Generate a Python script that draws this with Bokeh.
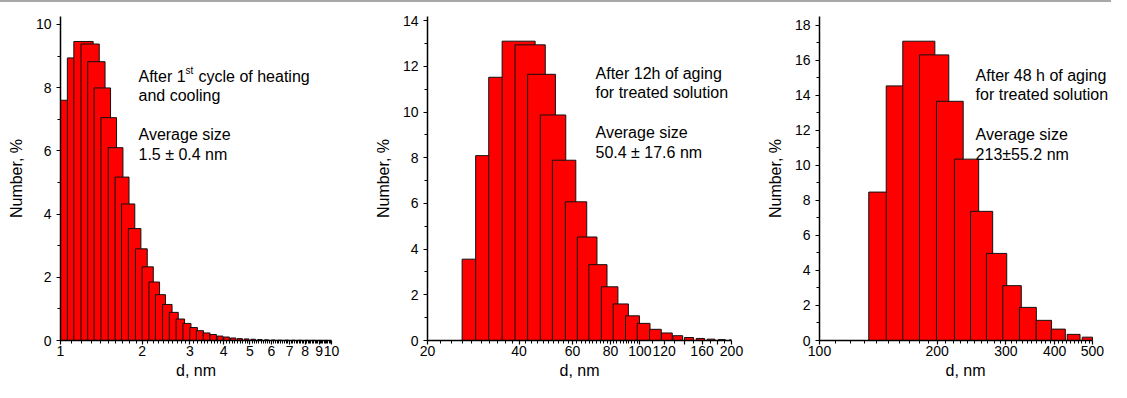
from bokeh.plotting import figure
from bokeh.layouts import row
from bokeh.models import Range1d, FixedTicker, SingleIntervalTicker, Label
from bokeh.embed import file_html
from bokeh.resources import INLINE

FONT = "Liberation Sans"

# ---------------- data ----------------
# Panel 1: after 1st cycle of heating and cooling (d in nm, Number in %)
p1_d = [1.00, 1.06, 1.12, 1.19, 1.26, 1.33, 1.41, 1.50, 1.59, 1.68,
        1.78, 1.89, 2.00, 2.12, 2.24, 2.38, 2.52, 2.67, 2.83, 3.00,
        3.17, 3.36, 3.56, 3.78, 4.00, 4.24, 4.49, 4.76, 5.04, 5.34,
        5.66, 6.00, 6.35, 6.73, 7.13, 7.55, 8.00, 8.48, 8.98, 9.51]
p1_n = [7.60, 8.94, 9.46, 9.38, 8.82, 7.99, 7.05, 6.10, 5.17, 4.32,
        3.54, 2.90, 2.33, 1.85, 1.45, 1.14, 0.89, 0.68, 0.54, 0.41,
        0.31, 0.24, 0.19, 0.14, 0.11, 0.08, 0.06, 0.05, 0.04, 0.03,
        0.02, 0.015, 0.01, 0.01, 0.008, 0.006, 0.005, 0.004, 0.003, 0.002]
p1_bar_w = 0.2

# Panel 2: after 12 h of aging
p2_d = [26.0, 28.8, 31.8, 35.2, 38.8, 42.7, 47.0, 51.5, 56.8, 62.2,
        67.9, 74.6, 81.6, 89.6, 97.9, 107.5, 117.7, 128.2, 140.1, 153.1,
        166.4, 180.8, 197.0]
p2_n = [3.56, 8.09, 11.52, 13.10, 12.94, 11.65, 9.87, 7.89, 6.07, 4.53,
        3.32, 2.35, 1.60, 1.08, 0.75, 0.49, 0.33, 0.21, 0.13, 0.09,
        0.06, 0.04, 0.03]
p2_bar_w = 10.0

# Panel 3: after 48 h of aging
p3_d = [133.7, 148.2, 163.4, 180.3, 199.3, 221.6, 243.6, 267.6, 294.6,
        325.1, 358.7, 392.0, 430.6, 470.6]
p3_n = [8.47, 14.53, 17.08, 16.30, 13.65, 10.35, 7.37, 4.97, 3.13,
        1.89, 1.15, 0.65, 0.35, 0.19]
p3_bar_w = 34.0

# tick labels
p1_ticks = [1, 2, 3, 4, 5, 6, 7, 8, 9, 10]
p1_tick_labels = ["1", "2", "3", "4", "5", "6", "7", "8", "9", "10"]
p2_ticks = [20, 40, 60, 80, 100, 120, 140, 160, 180, 200]
p2_tick_labels = ["20", "40", "60", "80", "100", "120", "", "160", "", "200"]
p3_ticks = [100, 200, 300, 400, 500]
p3_tick_labels = ["100", "200", "300", "400", "500"]

p1_minor = [round(1 + 0.1 * i, 2) for i in range(1, 90)]
p2_minor = [20 + 2 * i for i in range(1, 41)] + [100 + 10 * i for i in range(1, 10)]
p3_minor = [100 + 10 * i for i in range(1, 40)]

p1_text = ["After 1", "st", "cycle of heating", "and cooling", "Average size", "1.5 \u00b1 0.4 nm"]
p2_text = ["After 12h of aging", "for treated solution", "Average size", "50.4 \u00b1 17.6 nm"]
p3_text = ["After 48 h of aging", "for treated solution", "Average size", "213\u00b155.2 nm"]

H = 382
B_BOTTOM = 42
TXT_UP = 8


def panel(width, b_left, b_right, b_top, xr, yr, d, n, w,
          ticks, tick_labels, minor, x_bounds=None):
    p = figure(width=width, height=H, x_axis_type="log",
               x_range=Range1d(*xr), y_range=Range1d(*yr),
               output_backend="svg", toolbar_location=None, title=None,
               min_border_left=b_left, min_border_right=b_right,
               min_border_top=b_top, min_border_bottom=B_BOTTOM)
    xmax = x_bounds[1] if x_bounds else xr[1]
    p.quad(left=d, right=[min(x + w, xmax) for x in d], bottom=0, top=n,
           fill_color="#ff0000", line_color="#111111", line_width=1)
    p.xgrid.visible = False
    p.ygrid.visible = False
    p.outline_line_color = None
    p.background_fill_color = "white"
    p.border_fill_alpha = 0

    xa = p.xaxis[0]
    xa.ticker = FixedTicker(ticks=ticks, minor_ticks=minor)
    xa.major_label_overrides = {t: s for t, s in zip(ticks, tick_labels)}
    xa.axis_label = "d, nm"
    xa.major_label_standoff = 1
    xa.axis_label_standoff = 3
    if x_bounds:
        xa.bounds = x_bounds

    ya = p.yaxis[0]
    ya.ticker = SingleIntervalTicker(interval=2, num_minor_ticks=2)
    ya.axis_label = "Number, %"
    ya.major_label_standoff = 5
    ya.axis_label_standoff = 8

    for ax in (xa, ya):
        ax.axis_line_width = 1.5
        ax.axis_line_color = "black"
        ax.major_tick_out = 4
        ax.major_tick_in = 0
        ax.minor_tick_out = 3
        ax.minor_tick_in = 0
        ax.major_tick_line_width = 1.2
        ax.minor_tick_line_width = 1
        ax.major_tick_line_color = "black"
        ax.minor_tick_line_color = "black"
        ax.major_label_text_font = FONT
        ax.major_label_text_font_size = "14px"
        ax.major_label_text_color = "black"
        ax.axis_label_text_font = FONT
        ax.axis_label_text_font_size = "16px"
        ax.axis_label_text_font_style = "normal"
        ax.axis_label_text_color = "black"
    return p


def add_label(p, x, y, text, size="16px", x_offset=0, y_offset=0):
    p.add_layout(Label(x=x, y=y, text=text, text_font=FONT, text_font_size=size,
                       text_color="black", text_baseline="alphabetic",
                       text_align="left", x_offset=x_offset,
                       y_offset=y_offset + TXT_UP))


# panel 1: frame x 60..331, y 12..340
p1 = panel(370, 60, 39, 12, (1, 10), (0, 10.25), p1_d, p1_n, p1_bar_w,
           p1_ticks, p1_tick_labels, p1_minor)
add_label(p1, 1.94, 8.09, p1_text[0])
add_label(p1, 1.94, 8.09, p1_text[1], size="10px", x_offset=47, y_offset=6)
add_label(p1, 1.94, 8.09, p1_text[2], x_offset=60)
add_label(p1, 1.94, 7.50, p1_text[3])
add_label(p1, 1.94, 6.25, p1_text[4])
add_label(p1, 1.94, 5.63, p1_text[5])

# panel 2: frame x 427..731, y 16..340
p2 = panel(390, 57, 29, 16, (20, 200), (0, 14.18), p2_d, p2_n, p2_bar_w,
           p2_ticks, p2_tick_labels, p2_minor)
for t, yy in zip(p2_text, [11.33, 10.50, 8.75, 7.88]):
    add_label(p2, 71.4, yy, t)

# panel 3: frame x 819..1111 (axis drawn 100..500), y 13..340
p3 = panel(351, 59, 0, 13, (100, 559.3), (0, 18.49), p3_d, p3_n, p3_bar_w,
           p3_ticks, p3_tick_labels, p3_minor, x_bounds=(100, 500))
for t, yy in zip(p3_text, [14.64, 13.57, 11.31, 10.18]):
    add_label(p3, 251.0, yy, t)

layout = row(p1, p2, p3, styles={"box-shadow": "inset 0 2px 0 #a8a8a8",
                                  "background-color": "white"})
open("out.html", "w").write(file_html(layout, INLINE))
